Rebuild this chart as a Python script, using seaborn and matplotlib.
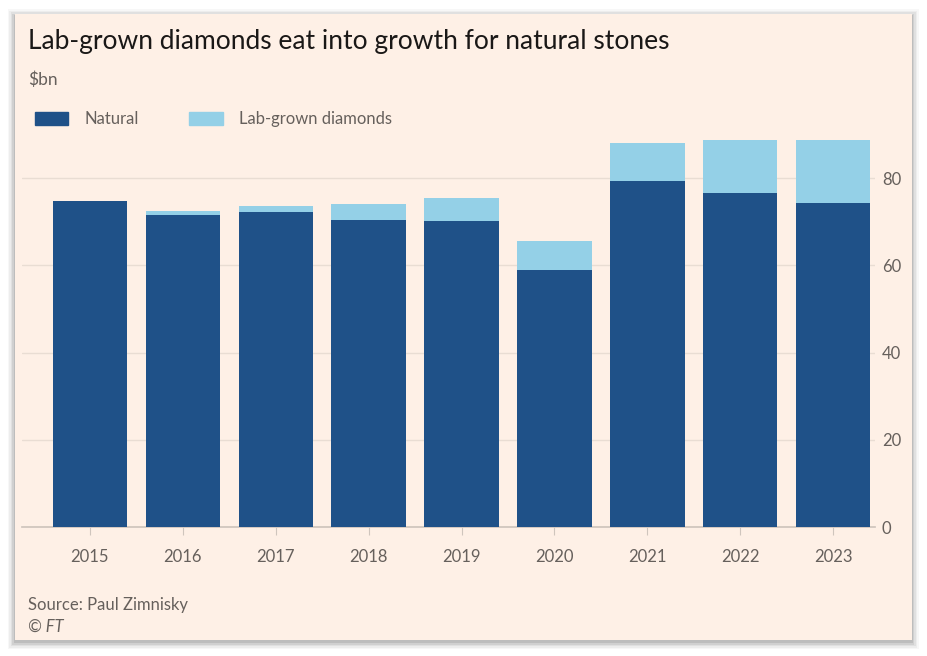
import pandas as pd
import matplotlib.pyplot as plt
import matplotlib.patches as mpatches
import seaborn as sns

# Values ($bn)
years = ['2015', '2016', '2017', '2018', '2019', '2020', '2021', '2022', '2023']
natural = [74.7, 71.5, 72.2, 70.4, 70.1, 58.9, 79.3, 76.6, 74.3]
lab_grown = [0.0, 0.9, 1.4, 3.6, 5.3, 6.7, 8.7, 12.1, 14.4]
y_ticks = [0, 20, 40, 60, 80]

df = pd.DataFrame({'year': years, 'natural': natural, 'lab': lab_grown})
df['total'] = df['natural'] + df['lab']

paper = '#FEF0E6'
dark_blue = '#1F5188'
light_blue = '#94D0E7'
grey_text = '#66605C'

sns.set_theme(style='white')
plt.rcParams['font.family'] = ['Lato', 'DejaVu Sans']

fig = plt.figure(figsize=(9.28, 6.56), dpi=100, facecolor='white')
W, H = 928, 656

# panel with a soft shadow (drawn below the axes)
x0, y0, x1, y1 = 15, 14, 912, 640
for i, a in enumerate([0.03, 0.04, 0.05, 0.07, 0.09]):
    d = 7 - i * 1.5
    fig.patches.append(mpatches.Rectangle(
        ((x0 - d) / W, 1 - (y1 + d + 2) / H), (x1 - x0 + 2 * d) / W, (y1 - y0 + 2 * d) / H,
        transform=fig.transFigure, facecolor='black', alpha=a, edgecolor='none', zorder=-3))
fig.patches.append(mpatches.Rectangle(
    (x0 / W, 1 - y1 / H), (x1 - x0) / W, (y1 - y0) / H,
    transform=fig.transFigure, facecolor=paper, edgecolor='none', zorder=-2))

ax = fig.add_axes([22 / W, 1 - 527 / H, (875 - 22) / W, (527 - 134.4) / H])
ax.patch.set_alpha(0)

sns.barplot(data=df, x='year', y='total', color=light_blue, width=0.8,
            saturation=1, linewidth=0, ax=ax, zorder=3)
sns.barplot(data=df, x='year', y='natural', color=dark_blue, width=0.8,
            saturation=1, linewidth=0, ax=ax, zorder=3)

ax.set_xlim(-0.73, 8.45)
ax.set_ylim(0, 90)
ax.set_yticks(y_ticks)
ax.yaxis.tick_right()
ax.set_xlabel('')
ax.set_ylabel('')
ax.grid(axis='y', color='#E9DDD3', linewidth=1, zorder=0)
ax.set_axisbelow(True)
for s in ['top', 'right', 'left']:
    ax.spines[s].set_visible(False)
ax.spines['bottom'].set_color('#CFC5BD')
ax.tick_params(axis='y', length=0, pad=5, labelsize=12, labelcolor=grey_text)
ax.tick_params(axis='x', length=6, width=0.8, color='#CFC5BD', pad=10,
               labelsize=12, labelcolor=grey_text, bottom=True)

fig.text(28 / W, 1 - 42 / H, 'Lab-grown diamonds eat into growth for natural stones',
         fontsize=19, color='#1A1817', va='center', ha='left')
fig.text(28 / W, 1 - 80 / H, '$bn', fontsize=12.5, color=grey_text, va='center', ha='left')

handles = [mpatches.Patch(color=dark_blue, label='Natural'),
           mpatches.Patch(color=light_blue, label='Lab-grown diamonds')]
fig.legend(handles=handles, loc='center left', bbox_to_anchor=(20 / W, 1 - 119 / H),
           ncol=2, frameon=False, fontsize=12, labelcolor=grey_text,
           handlelength=2.0, handleheight=0.8, columnspacing=3.0, handletextpad=1.0)

fig.text(28 / W, 1 - 605 / H, 'Source: Paul Zimnisky', fontsize=12, color=grey_text,
         va='center', ha='left')
fig.text(28 / W, 1 - 627 / H, '© FT', fontsize=12, color=grey_text, style='italic',
         va='center', ha='left')

fig.savefig('out.png', dpi=100, facecolor='white')
